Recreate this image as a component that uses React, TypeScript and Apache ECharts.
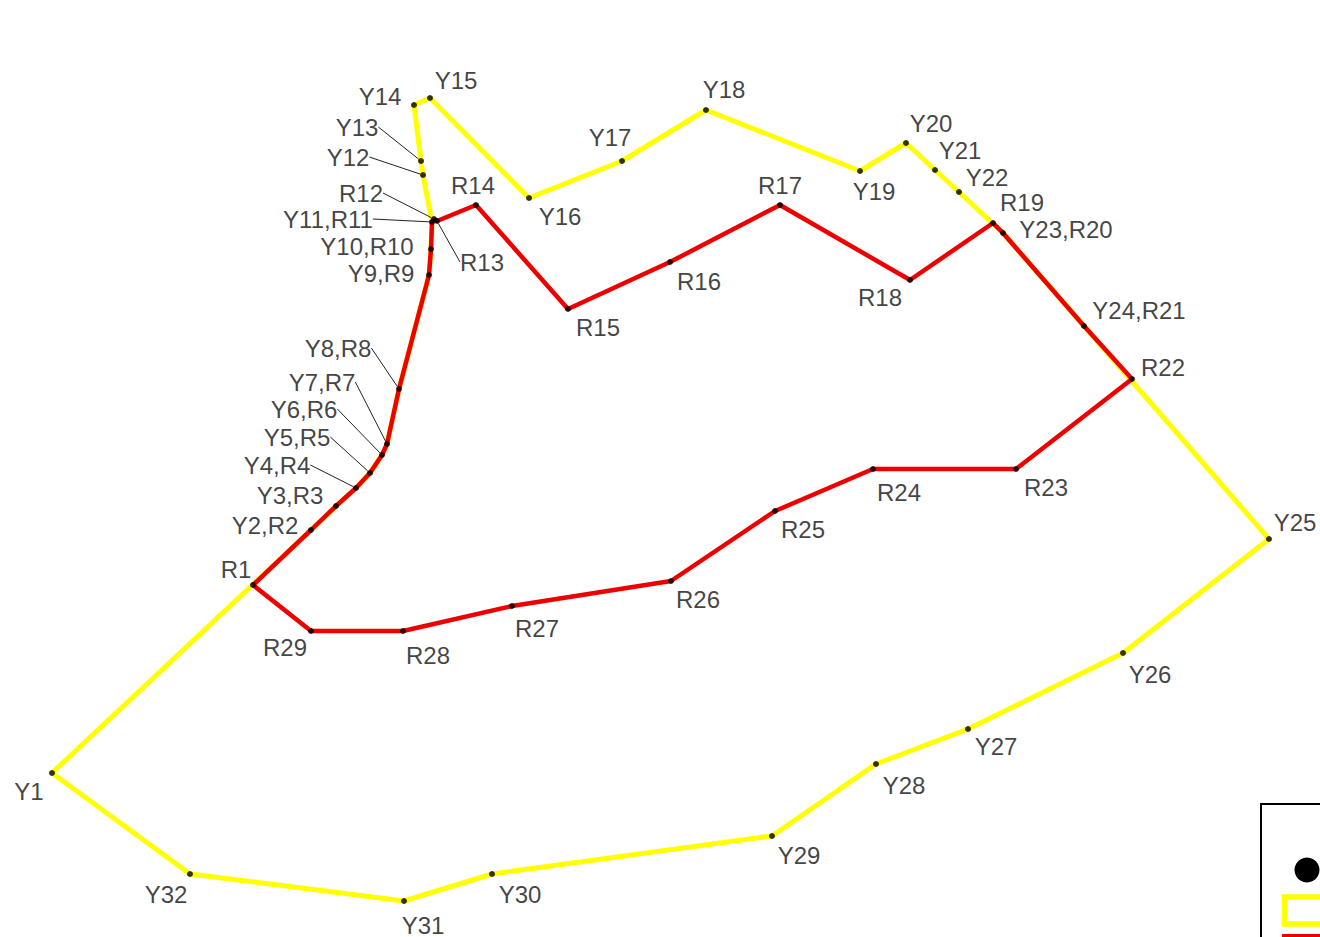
import React, { useEffect, useRef } from "react";
import * as echarts from "echarts";

// Boundary Y (yellow) vertices, in picture units (x right, y down)
const yellowNames = [
  "Y1", "Y2", "Y3", "Y4", "Y5", "Y6", "Y7", "Y8", "Y9", "Y10", "Y11", "Y12", "Y13", "Y14", "Y15", "Y16",
  "Y17", "Y18", "Y19", "Y20", "Y21", "Y22", "Y23", "Y24", "Y25", "Y26", "Y27", "Y28", "Y29", "Y30", "Y31", "Y32",
];
const yellowX = [
  52, 311, 336, 356, 370, 382, 387, 399, 429, 431, 432, 423, 421, 414, 430, 529,
  622, 706, 860, 906, 935, 959, 1003, 1084, 1269, 1123, 968, 876, 772, 492, 404, 190,
];
const yellowY = [
  773, 530, 506, 488, 473, 455, 444, 389, 275, 249, 222, 175, 161, 105, 98, 198,
  161, 110, 171, 143, 170, 192, 233, 326, 539, 653, 729, 764, 836, 874, 901, 874,
];

// Boundary R (red) vertices
const redNames = [
  "R1", "R2", "R3", "R4", "R5", "R6", "R7", "R8", "R9", "R10", "R11", "R12", "R13", "R14", "R15",
  "R16", "R17", "R18", "R19", "R20", "R21", "R22", "R23", "R24", "R25", "R26", "R27", "R28", "R29",
];
const redX = [
  253, 311, 336, 356, 370, 382, 387, 399, 429, 431, 432, 434, 437, 476, 568,
  670, 780, 910, 993, 1003, 1084, 1132, 1016, 873, 775, 671, 512, 403, 311,
];
const redY = [
  585, 530, 506, 488, 473, 455, 444, 389, 275, 249, 222, 219, 221, 205, 309,
  262, 205, 280, 223, 233, 326, 379, 469, 469, 511, 581, 606, 631, 631,
];

// Labelled points: label text and the vertex it marks
const markerLabels = [
  "Y1", "Y2,R2", "Y3,R3", "Y4,R4", "Y5,R5", "Y6,R6", "Y7,R7", "Y8,R8", "Y9,R9", "Y10,R10", "Y11,R11",
  "R12", "R13", "Y12", "Y13", "Y14", "Y15", "Y16", "Y17", "Y18", "Y19", "Y20", "Y21", "Y22", "R19",
  "Y23,R20", "Y24,R21", "R22", "Y25", "Y26", "Y27", "Y28", "Y29", "Y30", "Y31", "Y32",
  "R1", "R14", "R15", "R16", "R17", "R18", "R23", "R24", "R25", "R26", "R27", "R28", "R29",
];

// Label placement (pixels from the dot) — style only
const labelOffsets: Record<string, [number, number]> = {
  "Y1": [-23, 18], "Y2,R2": [-46, -5], "Y3,R3": [-46, -11], "Y4,R4": [-79, -23], "Y5,R5": [-73, -36],
  "Y6,R6": [-78, -46], "Y7,R7": [-65, -62], "Y8,R8": [-61, -41], "Y9,R9": [-48, -2], "Y10,R10": [-64, -3],
  "Y11,R11": [-104, -3], "R12": [-73, -26], "R13": [45, 41], "Y12": [-75, -18], "Y13": [-64, -34],
  "Y14": [-34, -9], "Y15": [26, -18], "Y16": [31, 18], "Y17": [-12, -24], "Y18": [18, -21],
  "Y19": [14, 20], "Y20": [25, -20], "Y21": [25, -20], "Y22": [28, -15], "R19": [29, -21],
  "Y23,R20": [63, -4], "Y24,R21": [55, -16], "R22": [31, -12], "Y25": [26, -17], "Y26": [27, 21],
  "Y27": [28, 17], "Y28": [28, 21], "Y29": [27, 19], "Y30": [28, 20], "Y31": [19, 24], "Y32": [-24, 20],
  "R1": [-17, -16], "R14": [-3, -20], "R15": [30, 18], "R16": [29, 19], "R17": [0, -20], "R18": [-30, 17],
  "R23": [30, 18], "R24": [26, 23], "R25": [28, 18], "R26": [27, 18], "R27": [25, 22], "R28": [25, 24],
  "R29": [-26, 16],
};
const leaderLabels = ["Y4,R4", "Y5,R5", "Y6,R6", "Y7,R7", "Y8,R8", "Y11,R11", "R12", "R13", "Y12", "Y13"];

function lookup(label: string): [number, number] {
  const first = label.split(",")[0];
  const yi = yellowNames.indexOf(first);
  if (yi >= 0) return [yellowX[yi], yellowY[yi]];
  const ri = redNames.indexOf(first);
  return [redX[ri], redY[ri]];
}

export default function App() {
  const ref = useRef<HTMLDivElement>(null);
  useEffect(() => {
    if (!ref.current) return;
    const chart = echarts.init(ref.current, null, { renderer: "svg" });
    const yellowData = yellowX.map((x, i) => [x, yellowY[i]]);
    yellowData.push([yellowX[0], yellowY[0]]);
    const redData = redX.map((x, i) => [x, redY[i]]);
    redData.push([redX[0], redY[0]]);
    const markerData = markerLabels.map((name) => {
      const [x, y] = lookup(name);
      const leader = leaderLabels.includes(name);
      return {
        name,
        value: [x, y],
        labelLine: { show: leader },
      };
    });
    chart.setOption({
      animation: false,
      backgroundColor: "#ffffff",
      grid: { left: 0, right: 0, top: 0, bottom: 0 },
      xAxis: { type: "value", min: 0, max: 1320, show: false },
      yAxis: { type: "value", min: 0, max: 937, inverse: true, show: false },
      graphic: [
        {
          type: "group",
          z: 100,
          children: [
            { type: "rect", shape: { x: 1261, y: 804, width: 120, height: 200 }, style: { fill: "#ffffff", stroke: "#000000", lineWidth: 2 } },
            { type: "circle", shape: { cx: 1307, cy: 870, r: 12.5 }, style: { fill: "#000000" } },
            { type: "rect", shape: { x: 1284.5, y: 897, width: 70, height: 27 }, style: { fill: "none", stroke: "#ffff00", lineWidth: 5.5 } },
            { type: "rect", shape: { x: 1282, y: 934, width: 70, height: 10 }, style: { fill: "#ee0000" } },
          ],
        },
      ],
      series: [
        {
          type: "line",
          name: "Y",
          data: yellowData,
          symbol: "none",
          z: 1,
          lineStyle: { color: "#ffff00", width: 5 },
        },
        {
          type: "line",
          name: "R",
          data: redData,
          symbol: "none",
          z: 2,
          lineStyle: { color: "#ee0000", width: 4.5 },
        },
        {
          type: "scatter",
          name: "points",
          data: markerData,
          symbol: "circle",
          symbolSize: 6,
          z: 3,
          itemStyle: { color: "#000000" },
          label: {
            show: true,
            position: "inside",
            formatter: (p: any) => p.name,
            fontFamily: "Liberation Sans, Arial, sans-serif",
            fontSize: 24,
            color: "#111111",
            align: "center",
            verticalAlign: "middle",
          },
          labelLine: {
            show: false,
            lineStyle: { color: "#222222", width: 1 },
          },
          labelLayout: (params: any) => {
            const name = markerLabels[params.dataIndex];
            const off = labelOffsets[name] || [0, 0];
            return { dx: off[0], dy: off[1] };
          },
        },
      ],
    });
    return () => chart.dispose();
  }, []);
  return (
    <div
      ref={ref}
      style={{ position: "fixed", left: 0, top: 0, width: 1320, height: 937, background: "#fff" }}
    />
  );
}
